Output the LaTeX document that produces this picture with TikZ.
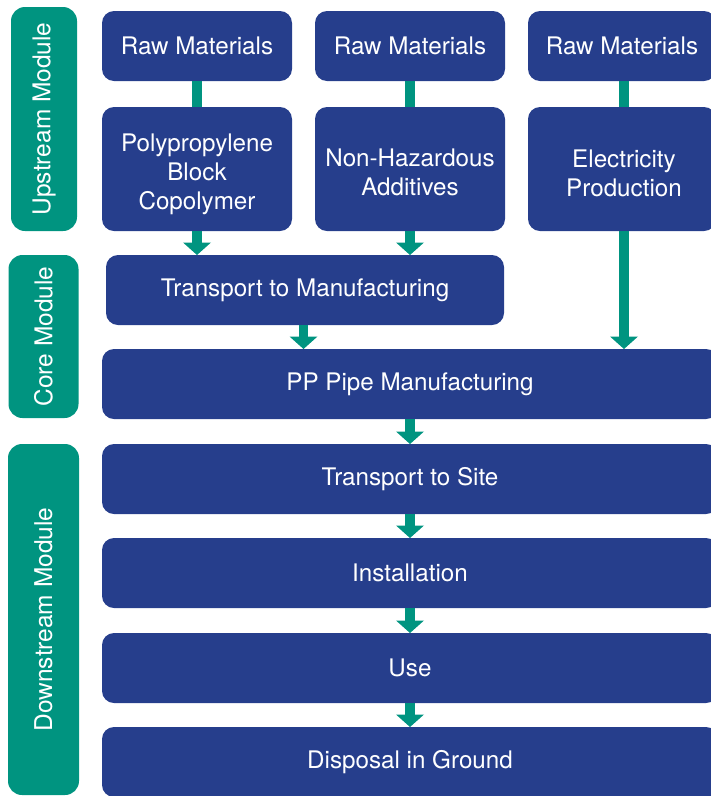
\documentclass[tikz,border=0pt]{standalone}
\usepackage{fontspec}
\setmainfont{TeX Gyre Heros}
\usetikzlibrary{arrows.meta}
\definecolor{boxblue}{RGB}{38,62,140}
\definecolor{modteal}{RGB}{0,148,128}
\begin{document}
\begin{tikzpicture}[x=1pt,y=-1pt,
  box/.style={fill=boxblue,text=white,rounded corners=12pt,inner sep=0pt,outer sep=0pt,align=center,font=\fontsize{24.2}{29}\selectfont},
  boxtext/.style={text=white,inner sep=0pt,outer sep=0pt,align=center,font=\fontsize{24.2}{29}\selectfont},
  modbox/.style={fill=modteal,text=white,rounded corners=14pt,inner sep=0pt,outer sep=0pt,rotate=90,font=\fontsize{24.5}{29}\selectfont},
  link/.style={draw=modteal,line width=9.5pt},
  flow/.style={link,-{Triangle[width=28pt,length=12.5pt,line width=0pt]}}]
\useasboundingbox (0,0) rectangle (711,796);
\clip (0,0) rectangle (711,796);
% module labels
\node[modbox,minimum width=224pt,minimum height=66pt] (up) at (44,119) {Upstream Module};
\node[modbox,minimum width=163pt,minimum height=70pt] (core) at (43.5,336.5) {Core Module};
\node[modbox,minimum width=351pt,minimum height=71pt] (down) at (43.5,619.5) {Downstream Module};
% upstream boxes
\node[box,minimum width=190pt,minimum height=70pt] (rm1) at (197,46) {Raw Materials};
\node[box,minimum width=190pt,minimum height=70pt] (rm2) at (410,46) {Raw Materials};
\node[box,minimum width=188pt,minimum height=70pt] (rm3) at (622,46) {Raw Materials};
\node[box,minimum width=190pt,minimum height=124pt] (pp) at (197,169) {};
\node[box,minimum width=190pt,minimum height=124pt] (nh) at (410,169) {};
\node[box,minimum width=188pt,minimum height=124pt] (el) at (622,169) {};
\node[boxtext] (pptext) at ([yshift=-5pt]pp.center) {Polypropylene\\Block\\Copolymer};
\node[boxtext] (nhtext) at ([yshift=-3pt]nh.center) {Non-Hazardous\\Additives};
\node[boxtext] (eltext) at ([yshift=-4pt,xshift=2pt]el.center) {Electricity\\Production};
% core
\node[box,minimum width=398pt,minimum height=70pt] (tm) at (305,290) {Transport to Manufacturing};
\node[box,minimum width=616pt,minimum height=70pt] (ppm) at (410,384) {PP Pipe Manufacturing};
% downstream
\node[box,minimum width=616pt,minimum height=70pt] (ts) at (410,479) {Transport to Site};
\node[box,minimum width=616pt,minimum height=70pt] (inst) at (410,573) {Installation};
\node[box,minimum width=616pt,minimum height=70pt] (use) at (410,668) {Use};
\node[box,minimum width=616pt,minimum height=70pt] (disp) at (410,762) {Disposal in Ground};
% connectors
\draw[link] (rm1.south) -- (pp.north);
\draw[link] (rm2.south) -- (nh.north);
\draw[link] ([xshift=2pt]rm3.south) -- ([xshift=2pt]el.north);
\draw[flow] (pp.south) -- (pp.south |- tm.north);
\draw[flow] (nh.south) -- (nh.south |- tm.north);
\draw[flow] (tm.south -| 303.5,0) -- (ppm.north -| 303.5,0);
\draw[flow] ([xshift=2pt]el.south) -- ([xshift=2pt]el.south |- ppm.north);
\draw[flow] (ppm.south) -- (ts.north);
\draw[flow] (ts.south) -- (inst.north);
\draw[flow] (inst.south) -- (use.north);
\draw[flow] (use.south) -- (disp.north);
\end{tikzpicture}
\end{document}
